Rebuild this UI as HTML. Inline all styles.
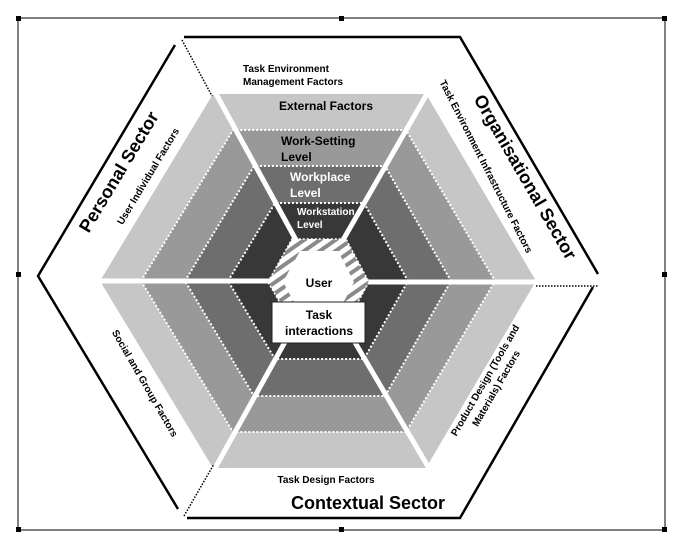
<!DOCTYPE html>
<html><head><meta charset="utf-8"><style>
html,body{margin:0;padding:0;background:#fff;}
svg{display:block;font-family:"Liberation Sans",Arial,sans-serif;}
</style></head><body>
<svg width="683" height="552" viewBox="0 0 683 552" xmlns="http://www.w3.org/2000/svg">
<defs>
<pattern id="hatch" patternUnits="userSpaceOnUse" width="9" height="9" patternTransform="rotate(-35)">
<rect width="9" height="9" fill="#fff"/><rect width="9" height="4" fill="#8a8a8a"/>
</pattern>
</defs>
<rect x="18" y="18" width="647" height="512" fill="none" stroke="#000" stroke-width="1"/>
<g fill="#000">
<rect x="16" y="16" width="5" height="5"/><rect x="339" y="16" width="5" height="5"/><rect x="662" y="16" width="5" height="5"/>
<rect x="16" y="272" width="5" height="5"/><rect x="662" y="272" width="5" height="5"/>
<rect x="16" y="527" width="5" height="5"/><rect x="339" y="527" width="5" height="5"/><rect x="662" y="527" width="5" height="5"/>
</g>
<!-- bands -->
<polygon points="100,281 213,94 426,94 536,281 426,468 213,468" fill="#c6c6c6"/>
<polygon points="141,281 233,130 406,130 495,281 406,432 233,432" fill="#999" stroke="#fff" stroke-width="2" stroke-dasharray="2,2"/>
<polygon points="185,281 254,166 385,166 451,281 385,396 254,396" fill="#6e6e6e" stroke="#fff" stroke-width="2" stroke-dasharray="2,2"/>
<polygon points="228,281 275,203 364,203 408,281 364,359 275,359" fill="#383838" stroke="#fff" stroke-width="2" stroke-dasharray="2,2"/>
<!-- separators -->
<g stroke="#fff" stroke-width="5">
<line x1="296" y1="240" x2="186" y2="39"/>
<line x1="343" y1="240" x2="428" y2="92"/>
<line x1="366" y1="282" x2="598" y2="282"/>
<line x1="343" y1="322" x2="430" y2="470"/>
<line x1="296" y1="322" x2="188" y2="517"/>
<line x1="270" y1="281" x2="100" y2="281"/>
</g>
<g stroke="#000" stroke-width="1.5" stroke-dasharray="1.5,1.5" fill="none">
<line x1="182" y1="40" x2="212" y2="96"/>
<line x1="536" y1="286" x2="598" y2="286"/>
<line x1="184" y1="516" x2="214" y2="464"/>
</g>
<!-- center -->
<polygon points="268,282 292,239 346,239 369,282 346,324 292,324" fill="url(#hatch)" stroke="#fff" stroke-width="1.5" stroke-dasharray="2,2"/>
<polygon points="283,282 300,251 338,251 354,282 338,313 300,313" fill="#fff"/>
<rect x="272" y="302" width="93" height="41" fill="#fff" stroke="#222" stroke-width="1"/>
<!-- outer borders -->
<g stroke="#000" stroke-width="2.5" fill="none">
<polyline points="175,45 38,276 178,509"/>
<polyline points="184,37 460,37 598,274"/>
<polyline points="593,287 460,518 187,518"/>
</g>
<!-- text -->
<g font-weight="bold" fill="#000">
<text x="243" y="72" font-size="10">Task Environment</text>
<text x="243" y="85" font-size="10">Management Factors</text>
<text x="326" y="110" font-size="12" text-anchor="middle">External Factors</text>
<text x="281" y="145" font-size="12">Work-Setting</text>
<text x="281" y="161" font-size="12">Level</text>
<text x="290" y="181" font-size="12" fill="#fff">Workplace</text>
<text x="290" y="197" font-size="12" fill="#fff">Level</text>
<text x="297" y="215" font-size="10" fill="#fff">Workstation</text>
<text x="297" y="228" font-size="10" fill="#fff">Level</text>
<text x="319" y="287" font-size="12" text-anchor="middle">User</text>
<text x="319" y="319" font-size="12" text-anchor="middle">Task</text>
<text x="319" y="335" font-size="12" text-anchor="middle">interactions</text>
<text x="326" y="483" font-size="10" text-anchor="middle">Task Design Factors</text>
<text x="368" y="509" font-size="18" text-anchor="middle">Contextual Sector</text>
<text transform="translate(124,175) rotate(-59)" font-size="18" text-anchor="middle">Personal Sector</text>
<text transform="translate(151,178) rotate(-59)" font-size="10" text-anchor="middle">User Individual Factors</text>
<text transform="translate(520,180) rotate(60)" font-size="18" text-anchor="middle">Organisational Sector</text>
<text transform="translate(483,168) rotate(63)" font-size="10" text-anchor="middle">Task Environment Infrastructure Factors</text>
<text transform="translate(142,385) rotate(60)" font-size="10" text-anchor="middle">Social and Group Factors</text>
<text transform="translate(488,382) rotate(-60)" font-size="10" text-anchor="middle">Product Design (Tools and</text>
<text transform="translate(499,390) rotate(-60)" font-size="10" text-anchor="middle">Materials) Factors</text>
</g>
</svg>
</body></html>
